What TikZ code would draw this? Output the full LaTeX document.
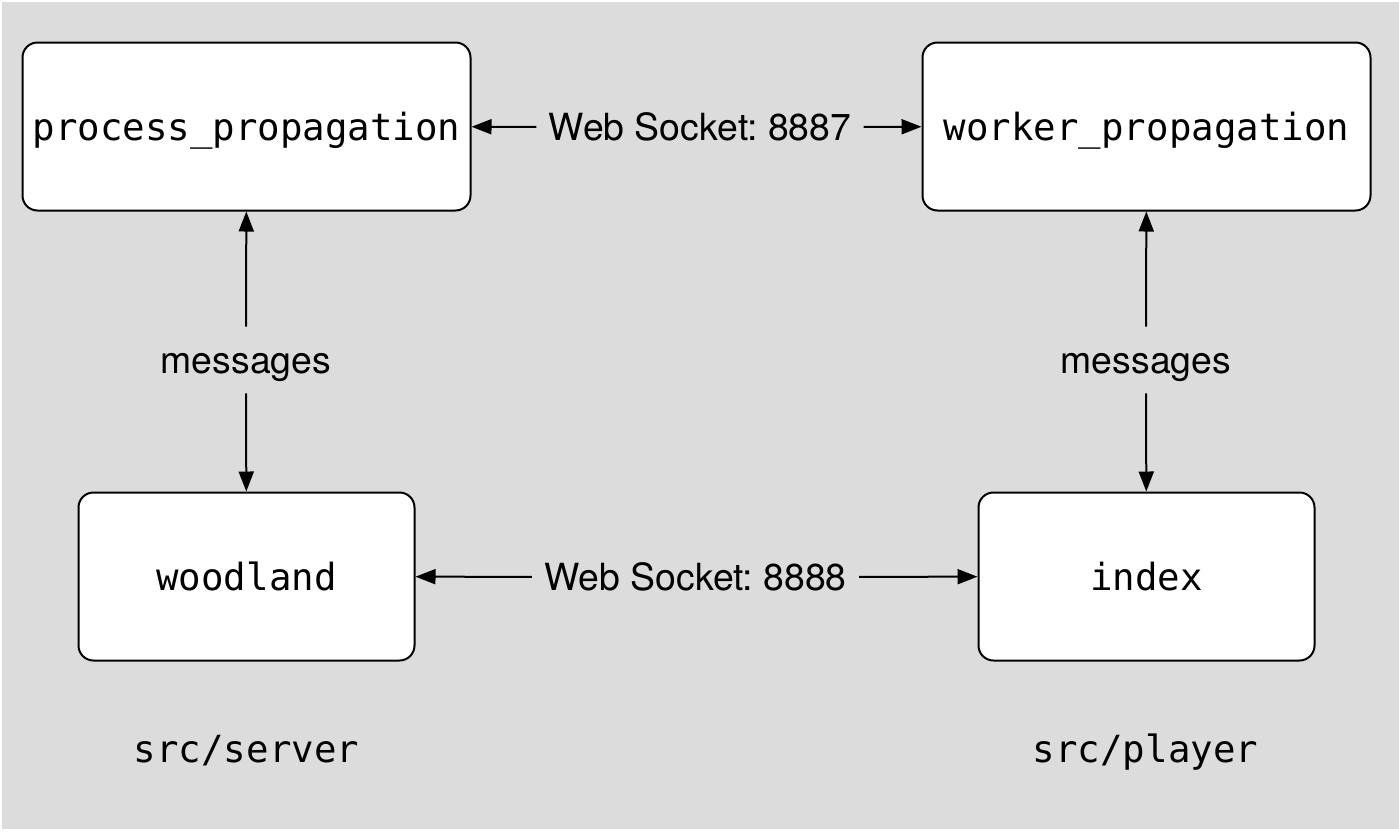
\documentclass[tikz,border=0pt]{standalone}
\usepackage{fontspec}
\setmainfont{TeX Gyre Heros}
\setmonofont{DejaVu Sans Mono}
\usepackage{tikz}
\usetikzlibrary{arrows.meta, positioning}
\usepackage{xcolor}
\definecolor{PanelGray}{HTML}{DCDCDC}
\frenchspacing
\tikzset{%
  block/.style={%
    rectangle,
    minimum width=224pt,
    minimum height=84pt,
    line width=1pt,
    draw=black,
    fill=white,
    rounded corners=7.5pt,
    font={\fontsize{18.7pt}{22pt}\ttfamily},
    text height=14pt,
    text depth=0pt,
    align=center%
  },
  narrow/.style={%
    minimum width=168pt%
  },
  annotate/.style={%
    font={\fontsize{18.7pt}{22pt}\selectfont},
    inner xsep=6pt,
    inner ysep=10pt,
    text height=13pt,
    text depth=0pt%
  },
  folder/.style={%
    font={\fontsize{18.7pt}{22pt}\ttfamily},
    text height=14pt,
    text depth=0pt%
  },
  signal/.style={%
    color=black,
    line width=1pt%
  },
  arrow/.style={-{Triangle[length=10pt, width=7.5pt]}}
}
\begin{document}
\begin{tikzpicture}[x=0.5pt, y=-0.5pt]
    \useasboundingbox (0,0) rectangle (1399,831);
    \fill [PanelGray] (2,2) rectangle (1399,829);

    \node [block] (ProcessProp) at (246.5,126.5) {process\_propagation};
    \node [block, right=225pt of ProcessProp] (WorkerProp) {worker\_propagation};
    \node [block, narrow, below=140pt of ProcessProp] (Woodland) {woodland};
    \node [block, narrow, below=140pt of WorkerProp] (Index) {index};

    \node [annotate] (SocketTop) at (700,127) {Web Socket: 8887};
    \node [annotate] (SocketBottom) at (695.5,577) {Web Socket: 8888};
    \node [annotate] (MessagesLeft) at (246,360) {messages};
    \node [annotate] (MessagesRight) at (1146,360) {messages};

    \node [folder] (ServerDir) at (246.5,748) {src/server};
    \node [folder] (PlayerDir) at (1145.5,748) {src/player};

    \draw [arrow, signal]
      (SocketTop) -- (ProcessProp);
    \draw [arrow, signal]
      (SocketTop) -- (WorkerProp);
    \draw [arrow, signal]
      (SocketBottom) -- (Woodland);
    \draw [arrow, signal]
      (SocketBottom) -- (Index);
    \draw [arrow, signal]
      (MessagesLeft) -- (ProcessProp);
    \draw [arrow, signal]
      (MessagesLeft) -- (Woodland);
    \draw [arrow, signal]
      (MessagesRight) -- (WorkerProp);
    \draw [arrow, signal]
      (MessagesRight) -- (Index);
  \end{tikzpicture}
\end{document}
